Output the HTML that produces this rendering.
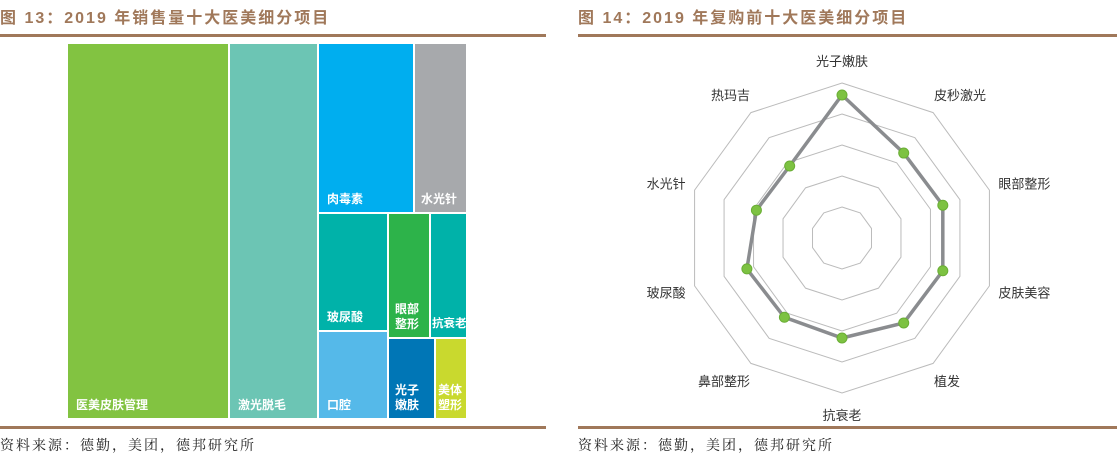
<!DOCTYPE html>
<html><head><meta charset="utf-8"><style>
body{margin:0;width:1117px;height:463px;background:#fff;overflow:hidden;position:relative;font-family:"Liberation Sans","Noto Sans CJK SC",sans-serif}
.t{position:absolute;top:4px;font-size:16px;font-weight:bold;color:#a0785a;letter-spacing:2px;white-space:nowrap}
.ln{position:absolute;height:3px;background:#a0785a}
.src{position:absolute;top:435px;font-size:14px;color:#222;font-family:"Liberation Serif","Noto Serif CJK SC",serif;letter-spacing:2px;white-space:nowrap}
.b{position:absolute;color:#fff;font-size:12px;font-weight:bold;line-height:15px}
.b span{position:absolute;left:8px;bottom:5px;white-space:nowrap}
</style></head><body>
<div class="t" style="left:0">图 13：2019 年销售量十大医美细分项目</div>
<div class="t" style="left:578px">图 14：2019 年复购前十大医美细分项目</div>
<div class="ln" style="left:0;width:546px;top:34px"></div>
<div class="ln" style="left:578px;width:539px;top:34px"></div>
<div class="ln" style="left:0;width:546px;top:426px"></div>
<div class="ln" style="left:578px;width:539px;top:426px"></div>
<div class="src" style="left:0">资料来源：德勤，美团，德邦研究所</div>
<div class="src" style="left:578px">资料来源：德勤，美团，德邦研究所</div>

<div class="b" style="left:68px;top:44px;width:160px;height:374px;background:#82c341"><span>医美皮肤管理</span></div>
<div class="b" style="left:230px;top:44px;width:87px;height:374px;background:#6cc5b4"><span>激光脱毛</span></div>
<div class="b" style="left:319px;top:44px;width:94px;height:168px;background:#00aeef"><span>肉毒素</span></div>
<div class="b" style="left:415px;top:44px;width:51px;height:168px;background:#a7a9ac"><span style="left:6px">水光针</span></div>
<div class="b" style="left:319px;top:214px;width:68px;height:116px;background:#00b2a9"><span>玻尿酸</span></div>
<div class="b" style="left:319px;top:332px;width:68px;height:86px;background:#55b9e9"><span>口腔</span></div>
<div class="b" style="left:389px;top:214px;width:40px;height:123px;background:#2db34a"><span style="left:6px">眼部<br>整形</span></div>
<div class="b" style="left:431px;top:214px;width:35px;height:123px;background:#00b2a9"><span style="left:1px;font-size:11.5px">抗衰老</span></div>
<div class="b" style="left:389px;top:339px;width:45px;height:79px;background:#0076b6"><span style="left:6px">光子<br>嫩肤</span></div>
<div class="b" style="left:436px;top:339px;width:30px;height:79px;background:#c9d92e"><span style="left:2px">美体<br>塑形</span></div>

<svg id="r" style="position:absolute;left:0;top:0" width="1117" height="463"></svg>
<script>
var s=document.getElementById('r'),cx=842,cy=238,R=155;
var labels=['光子嫩肤','皮秒激光','眼部整形','皮肤美容','植发','抗衰老','鼻部整形','玻尿酸','水光针','热玛吉'];
var vals=[143,105,106,106,105,100,98,100,90,89];
function pt(i,r){var a=i*Math.PI/5;return [cx+r*Math.sin(a),cy-r*Math.cos(a)];}
var h='';
for(var k=1;k<=5;k++){var p=[];for(var i=0;i<10;i++)p.push(pt(i,R*k/5).join(','));h+='<polygon points="'+p.join(' ')+'" fill="none" stroke="#bbb" stroke-width="1"/>';}
var q=[];for(var i=0;i<10;i++)q.push(pt(i,vals[i]).join(','));
h+='<polygon points="'+q.join(' ')+'" fill="none" stroke="#8a8c8f" stroke-width="3.5"/>';
for(var i=0;i<10;i++){var c=pt(i,vals[i]);h+='<circle cx="'+c[0]+'" cy="'+c[1]+'" r="5" fill="#7dc242" stroke="#6aae35" stroke-width="1"/>';}
for(var i=0;i<10;i++){var c=pt(i,R+22);var a=Math.sin(i*Math.PI/5);var anc=Math.abs(a)<0.1?'middle':(a>0?'start':'end');var dx=Math.abs(a)<0.1?0:(a>0?-12:12);
h+='<text x="'+(c[0]+dx)+'" y="'+(c[1]+5)+'" text-anchor="'+anc+'" font-size="13" fill="#333" font-family="Liberation Sans,Noto Sans CJK SC,sans-serif">'+labels[i]+'</text>';}
s.innerHTML=h;
</script>
</body></html>
